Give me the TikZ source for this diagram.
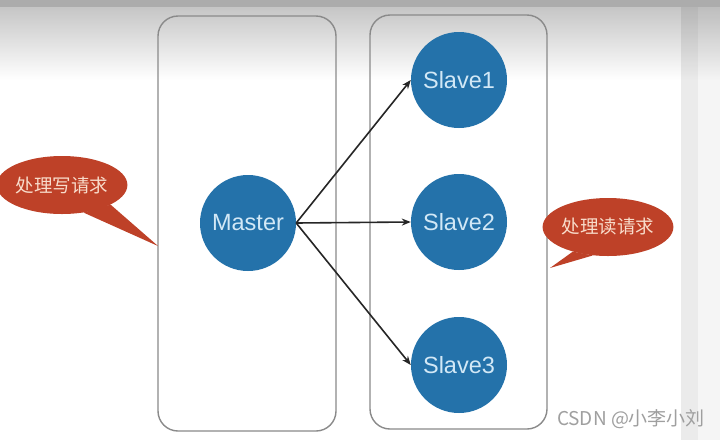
\documentclass[tikz,border=0pt]{standalone}
\usepackage{fontspec}
\setmainfont{Liberation Sans}
\newfontfamily\cjk{Noto Sans CJK SC}
\usetikzlibrary{arrows.meta,positioning,shapes.geometric}
\definecolor{nodeblue}{HTML}{2472AA}
\definecolor{nodetext}{HTML}{D2E8F6}
\definecolor{callred}{HTML}{BE4128}
\definecolor{calltext}{HTML}{F8DCCB}
\definecolor{framegray}{HTML}{8A8A8A}

\begin{document}
\begin{tikzpicture}[
    x=1pt, y=-1pt,
    group/.style={draw=framegray, line width=1.4pt, rounded corners=20pt},
    srv/.style={circle, fill=nodeblue, minimum size=96pt, inner sep=0pt, text=nodetext, font=\fontsize{23.5}{26}\selectfont},
    callout/.style={ellipse, fill=callred, minimum width=122pt, minimum height=58pt, inner sep=0pt, text=calltext, font=\cjk\fontsize{18.5}{20}\selectfont},
    arr/.style={-{Stealth[length=9pt, width=7pt]}, line width=1.6pt, black!85}
]
\useasboundingbox (0,0) rectangle (720,440);
% screen background
\fill[white] (0,0) rectangle (720,440);
\shade[top color=gray!45, bottom color=white] (0,7) rectangle (720,80);
\fill[black, opacity=0.08] (681,7) rectangle (698,440);
\fill[black, opacity=0.04] (698,7) rectangle (720,440);
\fill[gray!65] (0,0) rectangle (720,7);

% the two groups
\draw[group] (158,16) rectangle (336,431);
\draw[group] (370,15) rectangle (547,429);

% master and slaves
\node[srv] (m) at (248,223) {Master};
\node[srv] (s1) at (459,80) {Slave1};
\node[srv] (s2) at (459,222) {Slave2};
\node[srv] (s3) at (459,365) {Slave3};
\draw[arr] (m.east) -- (s1.west);
\draw[arr] (m.east) -- (s2.west);
\draw[arr] (m.east) -- (s3.west);

% callouts
\coordinate (tw) at (158,246);
\coordinate (tr) at (550,268);
\node[callout] (cw) at (62,185) {处理写请求};
\node[callout] (cr) at (608,227) {处理读请求};
\fill[callred] (cw.-22) -- (tw) -- (cw.-52) -- cycle;
\fill[callred] (cr.-145) -- (tr) -- (cr.-118) -- cycle;

\node[text=gray!75, font=\cjk\fontsize{19}{21}\selectfont] (wm) at (631,419) {CSDN @小李小刘};
\end{tikzpicture}
\end{document}
